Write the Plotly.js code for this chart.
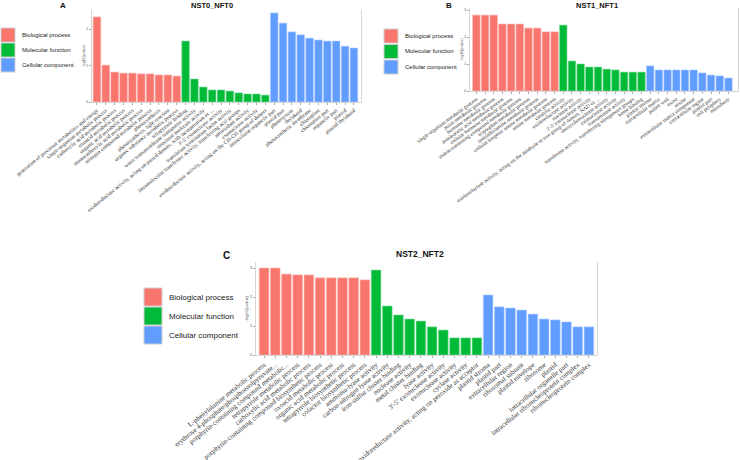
<!DOCTYPE html>
<html><head><meta charset="utf-8">
<script src="https://cdn.plot.ly/plotly-3.0.1.min.js"></script>
<style>html,body{margin:0;padding:0;background:#fff}#chart{width:740px;height:460px}</style>
</head><body><div id="chart"></div>
<script>
// ---------- DATA ----------
const groupNames = ["Biological process", "Molecular function", "Cellular component"];
const groupColors = ["#F8766D", "#00BA38", "#619CFF"];

// Panel A: NST0_NFT0
const aBP = ["generation of precursor metabolites and energy","single-organism metabolic process","carboxylic acid metabolic process","oxoacid metabolic process","organic acid metabolic process","monocarboxylic acid metabolic process","nitrogen compound metabolic process","photosynthesis","photosynthesis, light reaction","organic substance metabolic process"];
const aBPv = [2.33,1.01,0.82,0.79,0.79,0.77,0.77,0.74,0.74,0.71];
const aMF = ["tetrapyrrole binding","water transmembrane transporter activity","structural molecule activity","oxidoreductase activity, acting on paired donors, with incorporation or ...","3'-5' exonuclease activity","translation termination factor activity","intramolecular transferase activity, transferring acyl groups","antioxidant activity","exonuclease activity","oxidoreductase activity, acting on the CH-CH group of donors"];
const aMFv = [1.67,0.63,0.41,0.33,0.33,0.30,0.25,0.22,0.22,0.19];
const aCC = ["intracellular organelle part","plastid part","photosystem","thylakoid","photosynthetic membrane","chloroplast","chloroplast part","organelle part","plastid","plastid thylakoid"];
const aCCv = [2.44,2.16,1.92,1.84,1.75,1.70,1.67,1.67,1.53,1.48];

// Panel B: NST1_NFT1
const bBP = ["single-organism metabolic process","auxin metabolic process","hormone metabolic process","indoleacetic acid metabolic process","cellular hormone metabolic process","indole-containing compound metabolic process","tryptophan metabolic process","indolalkylamine metabolic process","cellular biogenic amine metabolic process","amine metabolic process"];
const bBPv = [2.81,2.81,2.81,2.48,2.48,2.48,2.33,2.33,2.19,2.19];
const bMF = ["catalytic activity","oxidoreductase activity","nuclease activity","3'-5' exonuclease activity","oxidoreductase activity, acting on the aldehyde or oxo group of donors, NAD or ...","deoxyribonuclease activity","exonuclease activity","transaminase activity","transferase activity, transferring nitrogenous groups","heme binding"];
const bMFv = [2.44,1.11,1.00,0.89,0.89,0.81,0.78,0.70,0.70,0.70];
const bCC = ["plastid stroma","extracellular matrix","pollen wall","exine","sexine","extracellular matrix component","extracellular region","plastid part","cell periphery","microbody"];
const bCCv = [0.93,0.78,0.78,0.78,0.78,0.78,0.67,0.59,0.56,0.48];

// Panel C: NST2_NFT2
const cBP = ["L-phenylalanine metabolic process","erythrose 4-phosphate/phosphoenolpyruvate...","porphyrin-containing compound metabolic...","tetrapyrrole metabolic process","carboxylic acid metabolic process","porphyrin-containing compound biosynthetic process","oxoacid metabolic process","organic acid metabolic process","tetrapyrrole biosynthetic process","cofactor biosynthetic process"];
const cBPv = [3.00,3.00,2.79,2.76,2.76,2.66,2.66,2.66,2.66,2.59];
const cMF = ["ammonia-lyase activity","carbon-nitrogen lyase activity","iron-sulfur cluster binding","nuclease activity","metal cluster binding","lyase activity","3'-5' exonuclease activity","exonuclease activity","cyclase activity","oxidoreductase activity, acting on peroxide as acceptor"];
const cMFv = [2.93,1.69,1.38,1.24,1.17,0.97,0.86,0.59,0.59,0.59];
const cCC = ["plastid stroma","plastid part","extracellular region","ribosomal subunit","plastid envelope","ribosome","plastid","intracellular organelle part","intracellular ribonucleoprotein complex","ribonucleoprotein complex"];
const cCCv = [2.07,1.66,1.62,1.55,1.41,1.24,1.21,1.14,0.97,0.97];

const yTitle = "-log10(pvalue)";
// ---------- BUILD ----------
const W = 740, H = 460;
const X = p => p / W, Y = p => 1 - p / H;
const lineCols = ["#fbb3ad", "#7fdc9b", "#b0cdff"];

function panelTraces(sets, xa, ya) {
  return sets.map((s, i) => ({
    type: "bar", x: s[0], y: s[1], xaxis: xa, yaxis: ya,
    marker: {color: groupColors[i], line: {color: lineCols[i], width: 0.6}},
    showlegend: false, hoverinfo: "x+y"
  }));
}
const traces = [].concat(
  panelTraces([[aBP, aBPv], [aMF, aMFv], [aCC, aCCv]], "x", "y"),
  panelTraces([[bBP, bBPv], [bMF, bMFv], [bCC, bCCv]], "x2", "y2"),
  panelTraces([[cBP, cBPv], [cMF, cMFv], [cCC, cCCv]], "x3", "y3")
);

function xax(dom, rng, ang, fs, anchor) {
  return {domain: dom, anchor: anchor, type: "category", range: rng, tickangle: ang,
    tickmode: "linear", tick0: 0, dtick: 1, automargin: false,
    tickfont: {family: "Liberation Serif", size: fs, color: "#333"},
    showline: true, linecolor: "#d6d6d6", linewidth: 1, ticks: "outside", ticklen: 2,
    tickcolor: "#aaa", showgrid: false, zeroline: false, fixedrange: true};
}
function yax(dom, rng, tv, fs, anchor) {
  return {domain: dom, anchor: anchor, range: rng, tickvals: tv, automargin: false,
    tickfont: {family: "Liberation Sans", size: fs, color: "#555"},
    showline: true, mirror: true, linecolor: "#d6d6d6", linewidth: 1,
    ticks: "outside", ticklen: 2, tickcolor: "#aaa", showgrid: false, zeroline: false,
    title: {text: yTitle, font: {family: "Liberation Sans", size: fs, color: "#555"}, standoff: 1}};
}

const shapes = [], annotations = [];
function legend(x0, y0, sz, gap, fs) {
  groupNames.forEach((n, i) => {
    const yt = y0 + i * (sz + gap);
    shapes.push({type: "rect", xref: "paper", yref: "paper", x0: X(x0), x1: X(x0 + sz),
      y0: Y(yt + sz), y1: Y(yt), fillcolor: groupColors[i], line: {color: "#d0d0d0", width: 1}});
    annotations.push({xref: "paper", yref: "paper", x: X(x0 + sz + 5), y: Y(yt + sz / 2),
      xanchor: "left", yanchor: "middle", text: n, showarrow: false,
      font: {family: "Liberation Sans", size: fs, color: "#222"}});
  });
}
legend(1, 28, 14, 1, 6);
legend(384, 29, 14, 1.5, 6);
legend(144, 288, 18, 1, 8);

function label(txt, x, y, fs) {
  annotations.push({xref: "paper", yref: "paper", x: X(x), y: Y(y), xanchor: "center",
    yanchor: "middle", text: "<b>" + txt + "</b>", showarrow: false,
    font: {family: "Liberation Sans", size: fs, color: "#111"}});
}
label("A", 63, 5, 8); label("NST0_NFT0", 212, 5, 7.5);
label("B", 449, 5, 8); label("NST1_NFT1", 597, 5, 7.5);
label("C", 226, 255, 10); label("NST2_NFT2", 420, 254, 8.5);

const layout = {
  width: W, height: H, margin: {l: 0, r: 0, t: 0, b: 0},
  paper_bgcolor: "#fff", plot_bgcolor: "#fff", barmode: "overlay", bargap: 0.14,
  showlegend: false,
  xaxis: xax([X(92), X(361)], [-0.56, 29.8], -39, 5.5, "y"),
  yaxis: yax([Y(102), Y(10)], [0, 92 / 36.5], [0, 1, 2], 3.5, "x"),
  xaxis2: xax([X(470), X(738)], [-0.73, 30.1], -36, 5.3, "y2"),
  yaxis2: yax([Y(91), Y(8)], [0, 83 / 27], [0, 1, 2, 3], 3.5, "x2"),
  xaxis3: xax([X(256), X(597)], [-0.72, 29.72], -39, 7, "y3"),
  yaxis3: yax([Y(355), Y(262)], [0, 93 / 29], [0, 1, 2, 3], 4, "x3"),
  shapes: shapes, annotations: annotations
};
Plotly.newPlot("chart", traces, layout, {displayModeBar: false, staticPlot: true});
</script></body></html>
